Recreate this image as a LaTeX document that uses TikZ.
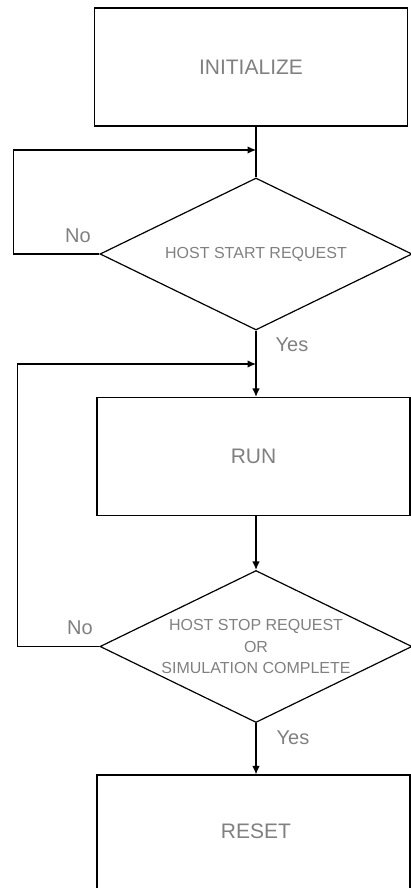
\documentclass[tikz,border=0pt]{standalone}
\usepackage{fontspec}
\setmainfont{Liberation Sans}
\usetikzlibrary{shapes.geometric,arrows.meta}
\definecolor{textgray}{RGB}{128,128,128}

\begin{document}
\begin{tikzpicture}[x=1pt,y=-1pt,
    every node/.style={text=textgray},
    stepbox/.style={draw=black, line width=1.2pt, rectangle, inner sep=0pt,
        minimum width=313pt, minimum height=118pt, font=\fontsize{21}{25}\selectfont},
    decision/.style={draw=black, line width=1.2pt, diamond, aspect=2.05, inner sep=0pt,
        minimum width=312pt, minimum height=152pt, align=center,
        font=\fontsize{16}{21.5}\selectfont},
    answer/.style={font=\fontsize{20}{24}\selectfont},
    flow/.style={line width=1.2pt, -{Latex[length=8.5pt,width=7.5pt]}}]
    % Fix the page size
    \useasboundingbox (0,0) rectangle (411,888);
    \clip (0,0) rectangle (411,888);

    % Boxes and decisions
    \node[stepbox] (init) at (251,67) {INITIALIZE};
    \node[decision] (startq) at (256,254) {HOST START REQUEST};
    \node[stepbox] (run) at (253.5,456.5) {RUN};
    \node[decision] (stopq) at (256,646.5) {HOST STOP REQUEST\\OR\\SIMULATION COMPLETE};
    \node[stepbox, minimum height=130pt] (reset) at (253.5,840) {};
    \node[font=\fontsize{21}{25}\selectfont] (resettext) at (256,831) {RESET};

    % Join points on the main line
    \coordinate (joinA) at (256,150);
    \coordinate (joinB) at (256,364);

    % Main line
    \draw[line width=1.2pt] (init.south -| startq.north) -- (startq.north);
    \draw[flow] (startq.south) -- (startq.south |- run.north);
    \draw[flow] (run.south -| stopq.north) -- (stopq.north);
    \draw[flow] (stopq.south) -- (stopq.south |- reset.north);

    % Loops back
    \draw[flow] (startq.west) -- ++(-86,0) |- (joinA);
    \draw[flow] (stopq.west) -- ++(-82,0) |- (joinB);

    % Answers
    \node[answer] (noA) at (78,236) {No};
    \node[answer] (yesA) at (292,345) {Yes};
    \node[answer] (noB) at (80,628) {No};
    \node[answer] (yesB) at (293,738) {Yes};
\end{tikzpicture}
\end{document}
